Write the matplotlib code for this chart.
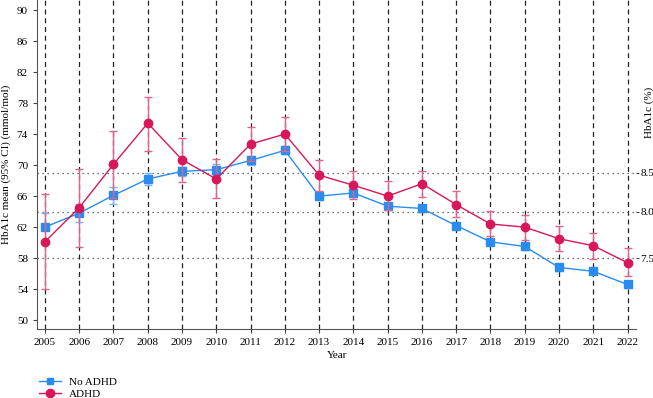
import matplotlib.pyplot as plt
import numpy as np
from matplotlib.lines import Line2D

plt.rcParams["font.family"] = ["Liberation Serif", "DejaVu Serif"]

years = list(range(2005, 2023))

no_adhd_mean = [62.0, 63.8, 66.1, 68.2, 69.2, 69.4, 70.6, 71.9, 66.0, 66.4,
                64.7, 64.4, 62.2, 60.1, 59.5, 56.8, 56.3, 54.6]
no_adhd_err = [1.8, 1.2, 1.1, 0.8, 0.6, 0.7, 0.6, 0.5, 0.5, 0.5,
               0.4, 0.4, 0.4, 0.4, 0.4, 0.4, 0.4, 0.4]

adhd_mean = [60.1, 64.5, 70.1, 75.4, 70.7, 68.2, 72.7, 74.0, 68.7, 67.4,
             66.0, 67.6, 64.9, 62.4, 62.0, 60.5, 59.6, 57.4]
adhd_low = [54.0, 59.4, 65.8, 71.8, 67.8, 65.7, 70.5, 71.8, 66.6, 65.6,
            64.2, 65.9, 63.3, 60.8, 60.4, 58.9, 57.9, 55.7]
adhd_high = [66.3, 69.5, 74.4, 78.8, 73.5, 70.8, 74.9, 76.2, 70.6, 69.3,
             67.9, 69.3, 66.6, 64.1, 63.6, 62.2, 61.3, 59.3]

left_ticks = [50, 54, 58, 62, 66, 70, 74, 78, 82, 86, 90]
pct_pos = [69.0, 64.0, 58.0]
pct_labels = ["8.5", "8.0", "7.5"]

BLUE = "#2a8cf0"
RED = "#d8175a"

fig = plt.figure(figsize=(6.53, 3.98), dpi=100)
ax = fig.add_axes([0.0567, 0.173, 0.918, 0.827])

for yr in years:
    ax.axvline(yr, color="#222222", linestyle=(0, (4, 3)), linewidth=0.9, zorder=1)
for p in pct_pos:
    ax.axhline(p, color="#444444", linestyle=(0, (1, 3)), linewidth=0.9, zorder=1)

ax.errorbar(years, no_adhd_mean, yerr=no_adhd_err, color=BLUE, ecolor="#7ab8f5",
            marker="s", markersize=6, linewidth=1.0, capsize=3, elinewidth=1.0,
            zorder=3)
adhd_err = [np.array(adhd_mean) - np.array(adhd_low), np.array(adhd_high) - np.array(adhd_mean)]
ax.errorbar(years, adhd_mean, yerr=adhd_err, color=RED, ecolor="#e0648f",
            marker="o", markersize=6, linewidth=1.0, capsize=3, elinewidth=1.0,
            zorder=4)

ax.set_xlim(2004.77, 2022.26)
ax.set_ylim(48.84, 91.29)
ax.set_xticks(years)
ax.set_yticks(left_ticks)
ax.tick_params(labelsize=8, length=3, width=0.8, color="#444444")
ax.spines["top"].set_visible(False)
ax.spines["right"].set_visible(False)
ax.spines["left"].set_color("#555555")
ax.spines["bottom"].set_color("#555555")
ax.set_xlabel("Year", fontsize=8, labelpad=3)
ax.set_ylabel("HbA1c mean (95% CI) (mmol/mol)", fontsize=8, labelpad=4)

ax2 = ax.twinx()
ax2.set_ylim(ax.get_ylim())
ax2.set_yticks(pct_pos)
ax2.set_yticklabels(pct_labels)
ax2.tick_params(labelsize=8, length=2, width=0.8, pad=1, color="#444444")
for s in ax2.spines.values():
    s.set_visible(False)
ax2.set_ylabel("HbA1c (%)", fontsize=8)
ax2.yaxis.set_label_coords(1.013, 0.66)

handles = [
    Line2D([], [], color=BLUE, marker="s", markersize=4, linewidth=1.0),
    Line2D([], [], color=RED, marker="o", markersize=6, linewidth=1.0),
]
ax.legend(handles, ["No ADHD", "ADHD"], loc="upper left", bbox_to_anchor=(0.003, -0.145),
          frameon=False, fontsize=8, handlelength=2.0, labelspacing=0.25,
          borderaxespad=0, handletextpad=0.7, borderpad=0)

fig.savefig("out.png", dpi=100)
